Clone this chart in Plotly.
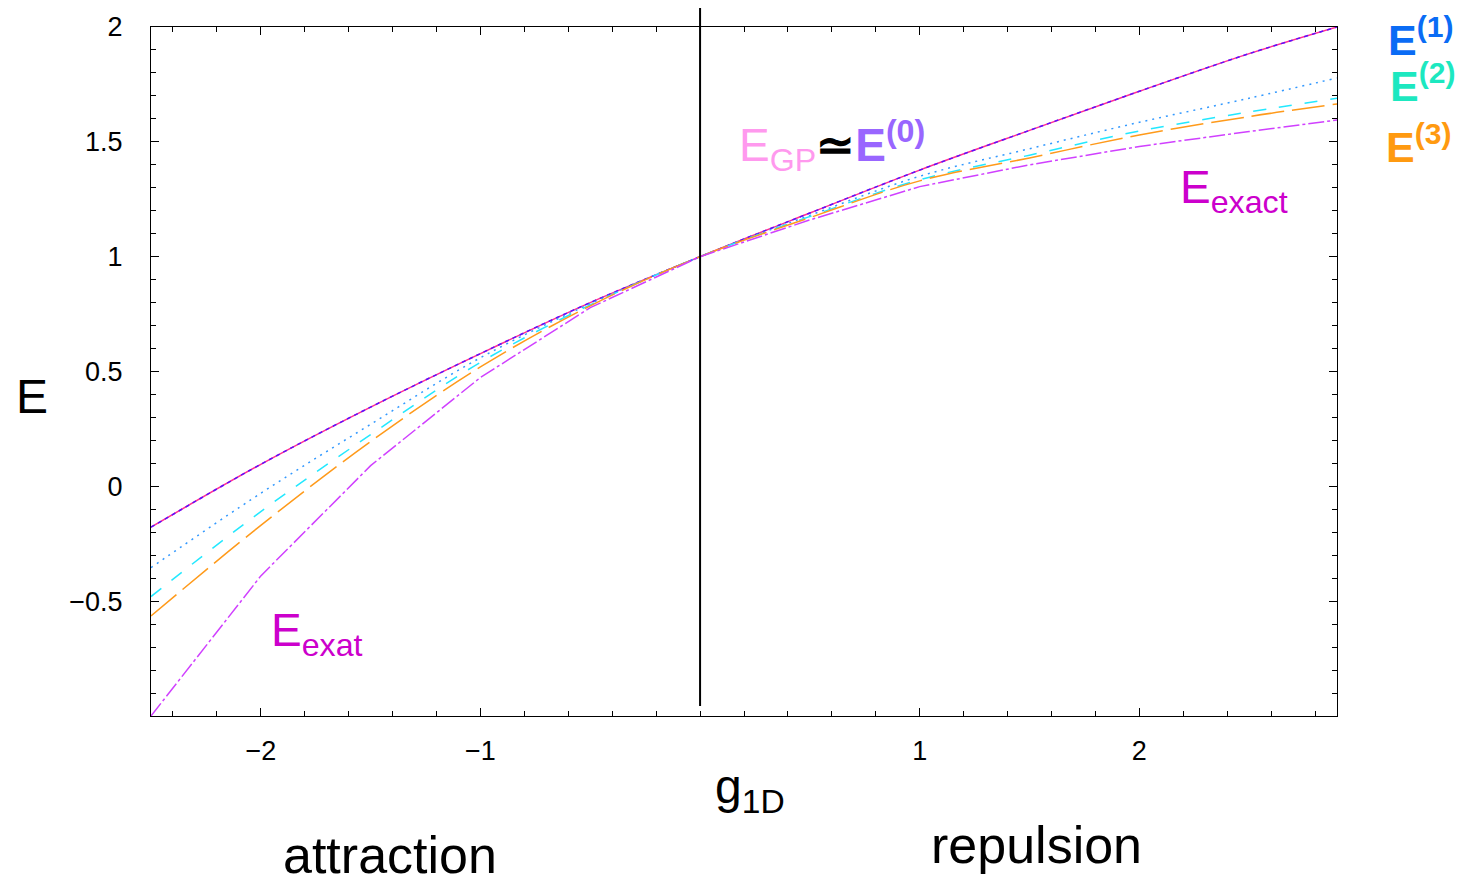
import plotly.graph_objects as go

# Coupling constant g_1D at which the energies are sampled
g_vals = [-2.5, -2.0, -1.5, -1.0, -0.5, 0.0, 0.5, 1.0, 1.5, 2.0, 2.5, 2.9]

# Ground-state energy from the different approximations
e_gp = [-0.178, 0.096, 0.345, 0.578, 0.800, 1.0, 1.190, 1.377, 1.550, 1.720, 1.884, 2.0]
e_0 = [-0.178, 0.096, 0.345, 0.578, 0.800, 1.0, 1.190, 1.377, 1.550, 1.720, 1.884, 2.0]
e_1 = [-0.354, -0.030, 0.270, 0.560, 0.795, 1.0, 1.180, 1.350, 1.470, 1.585, 1.690, 1.778]
e_2 = [-0.480, -0.110, 0.225, 0.540, 0.790, 1.0, 1.175, 1.335, 1.442, 1.547, 1.630, 1.690]
e_3 = [-0.564, -0.170, 0.195, 0.520, 0.786, 1.0, 1.170, 1.330, 1.430, 1.530, 1.610, 1.665]
e_exact = [-1.0, -0.390, 0.090, 0.474, 0.778, 1.0, 1.160, 1.305, 1.400, 1.480, 1.545, 1.595]

x_ticks = [-2, -1, 1, 2]
y_ticks = [-0.5, 0, 0.5, 1, 1.5, 2]

FONT = "Liberation Sans, Arial, Helvetica, sans-serif"

fig = go.Figure()

def add_line(y, color, dash, shape="spline", width=1.5):
    fig.add_trace(go.Scatter(
        x=g_vals, y=y, mode="lines",
        line=dict(color=color, width=width, dash=dash, shape=shape),
        showlegend=False, hoverinfo="skip",
    ))

add_line(e_gp, "#ff2d95", "solid")
add_line(e_0, "#5b10ff", "4px,4px")
add_line(e_1, "#3399ff", "2px,5px")
add_line(e_2, "#22e8ff", "13px,13px")
add_line(e_3, "#ff9a1a", "33px,8px")
add_line(e_exact, "#d040ff", "16px,3px,3px,3px", shape="linear")

# vertical line separating attraction and repulsion
fig.add_shape(type="line", xref="x", yref="paper", x0=0, x1=0, y0=0.0145, y1=1.0276,
              line=dict(color="black", width=2), layer="above")

ann = []
def label(x, y, text, size, color="black", xref="x", yref="y"):
    ann.append(dict(x=x, y=y, xref=xref, yref=yref, text=text, showarrow=False,
                    xanchor="center", yanchor="middle",
                    font=dict(family=FONT, size=size, color=color)))

# approximation labels beside the right edge of the plot
label(1.070, 0.986, "<b>E<sup>(1)</sup></b>", 43, "#0a6cf5", "paper", "paper")
label(1.072, 0.918, "<b>E<sup>(2)</sup></b>", 43, "#1de8c0", "paper", "paper")
label(1.069, 0.830, "<b>E<sup>(3)</sup></b>", 43, "#ff9a10", "paper", "paper")

label(0.60, 1.485,
      '<span style="color:#ff99ee">E<sub>GP</sub></span><b>≃</b>'
      '<span style="color:#9966ff"><b>E<sup>(0)</sup></b></span>', 46)
label(2.43, 1.29, "E<sub>exact</sub>", 46, "#cc00cc")
label(-1.745, -0.64, "E<sub>exat</sub>", 46, "#cc00cc")

label(-0.1003, 0.463, "E", 48, "black", "paper", "paper")
label(0.505, -0.107, "g<sub>1D</sub>", 48, "black", "paper", "paper")
label(0.2015, -0.202, "attraction", 52, "black", "paper", "paper")
label(0.747, -0.187, "repulsion", 52, "black", "paper", "paper")

axis_common = dict(
    showline=True, linecolor="black", linewidth=1, mirror="allticks",
    ticks="inside", ticklen=8, tickcolor="black", tickwidth=1,
    showgrid=False, zeroline=False,
    tickfont=dict(family=FONT, size=27, color="black"),
)

fig.update_xaxes(range=[-2.5, 2.9], tickvals=x_ticks,
                 minor=dict(dtick=0.2, tick0=0, ticks="inside", ticklen=5,
                            tickcolor="black", showgrid=False),
                 ticklabelstandoff=11, **axis_common)
fig.update_yaxes(range=[-1, 2], tickvals=y_ticks,
                 minor=dict(dtick=0.1, tick0=0, ticks="inside", ticklen=5,
                            tickcolor="black", showgrid=False),
                 ticklabelstandoff=22, **axis_common)

fig.update_layout(
    width=1461, height=883,
    margin=dict(l=151, r=124, t=27, b=167),
    plot_bgcolor="white", paper_bgcolor="white",
    annotations=ann,
)

fig.write_html("out.html")
